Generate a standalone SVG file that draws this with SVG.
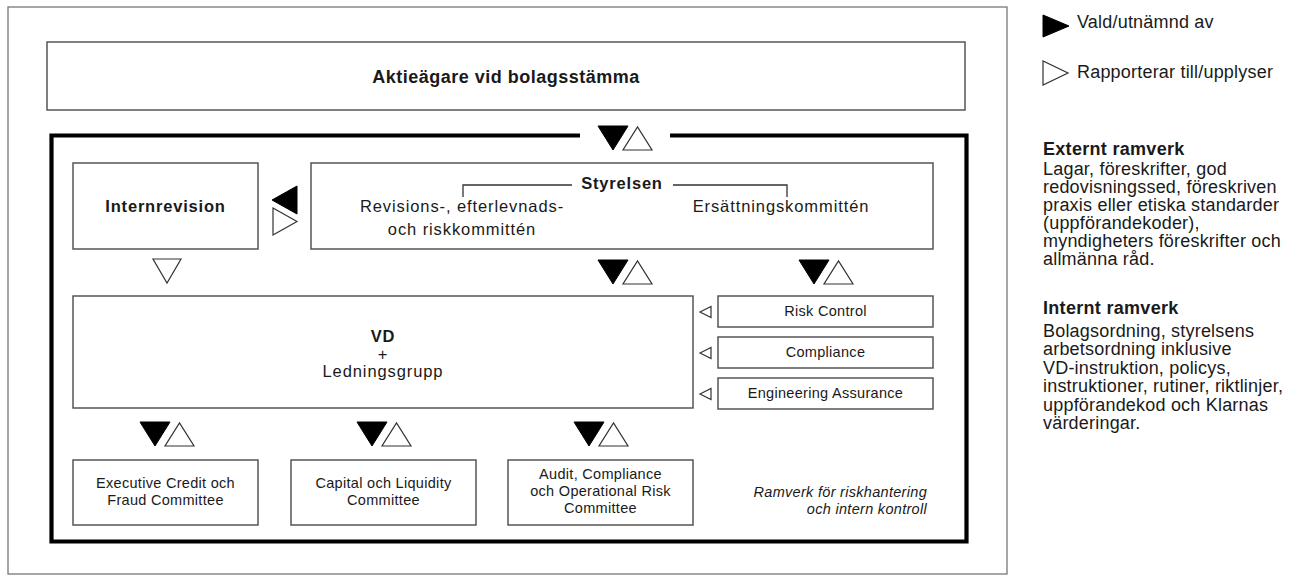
<svg xmlns="http://www.w3.org/2000/svg" xmlns:xlink="http://www.w3.org/1999/xlink" width="1301" height="577" viewBox="0 0 1301 577">
<style>
.frame{fill:none;stroke:#777;stroke-width:1.3}
.box{fill:#fff;stroke:#555;stroke-width:1.5}
.thick{fill:none;stroke:#000;stroke-width:4.2}
.bracket{fill:none;stroke:#333;stroke-width:1.3}
.fill{fill:#000;stroke:#000;stroke-width:1;stroke-linejoin:miter}
.hollow{fill:#fff;stroke:#333;stroke-width:1.2;stroke-linejoin:miter}
text{font-family:"Liberation Sans",Arial,sans-serif;fill:#1a1a1a}
.h{font-weight:bold;font-size:16.5px;letter-spacing:0.8px;text-anchor:middle}
.big{font-weight:bold;font-size:18px;letter-spacing:0.5px;text-anchor:middle}
.r{font-size:16.5px;letter-spacing:0.9px;text-anchor:middle}
.s{font-size:14.5px;letter-spacing:0.3px;text-anchor:middle}
.it{font-size:14.5px;font-style:italic;letter-spacing:0.3px;text-anchor:end}
.lg{font-size:18px;letter-spacing:0.2px}
.lgb{font-size:18px;font-weight:bold;letter-spacing:0.3px}
</style>
<defs>
<g id="pair">
<polygon class="fill" points="0,0 30,0 15,24"/>
<polygon class="hollow" points="25,24 54,24 39.5,1"/>
</g>
</defs>
<rect class="frame" x="8" y="7" width="999" height="567"/>
<g id="aktieagare">
<rect class="box" x="47" y="42" width="918" height="68"/>
<text class="big" x="506" y="83">Aktieägare vid bolagsstämma</text>
</g>
<g id="ramverk-frame">
<path class="thick" d="M580,135.5 H51.5 V541.5 H966.5 V135.5 H670"/>
<text class="it" x="927" y="497">Ramverk för riskhantering</text>
<text class="it" x="927" y="514">och intern kontroll</text>
</g>
<g id="internrevision">
<rect class="box" x="73" y="163" width="185" height="86"/>
<text class="h" x="165.5" y="212">Internrevision</text>
</g>
<g id="styrelsen">
<rect class="box" x="311" y="163" width="622" height="86"/>
<path class="bracket" d="M463,197 V185 H572 M673,185 H787 V197"/>
<text class="h" x="622" y="189">Styrelsen</text>
<text class="r" x="462" y="212">Revisions-, efterlevnads-</text>
<text class="r" x="462" y="235">och riskkommittén</text>
<text class="r" x="781" y="212">Ersättningskommittén</text>
</g>
<g id="vd">
<rect class="box" x="73" y="296" width="620" height="112"/>
<text class="h" x="383" y="342">VD</text>
<text class="r" x="383" y="360">+</text>
<text class="r" x="383" y="377">Ledningsgrupp</text>
</g>
<g id="risk-control">
<rect class="box" x="718" y="296" width="215" height="31"/>
<text class="s" x="825.5" y="316">Risk Control</text>
</g>
<g id="compliance">
<rect class="box" x="718" y="337" width="215" height="31"/>
<text class="s" x="825.5" y="357">Compliance</text>
</g>
<g id="engineering-assurance">
<rect class="box" x="718" y="378" width="215" height="31"/>
<text class="s" x="825.5" y="398">Engineering Assurance</text>
</g>
<g id="executive-credit">
<rect class="box" x="73" y="460" width="185" height="65"/>
<text class="s" x="165.5" y="488">Executive Credit och</text>
<text class="s" x="165.5" y="505">Fraud Committee</text>
</g>
<g id="capital-liquidity">
<rect class="box" x="291" y="460" width="185" height="65"/>
<text class="s" x="383.5" y="488">Capital och Liquidity</text>
<text class="s" x="383.5" y="505">Committee</text>
</g>
<g id="audit-compliance">
<rect class="box" x="508" y="460" width="185" height="65"/>
<text class="s" x="600.5" y="479">Audit, Compliance</text>
<text class="s" x="600.5" y="496">och Operational Risk</text>
<text class="s" x="600.5" y="513">Committee</text>
</g>
<g id="connectors">
<use xlink:href="#pair" x="598" y="126"/>
<use xlink:href="#pair" x="598" y="260"/>
<use xlink:href="#pair" x="799" y="260"/>
<use xlink:href="#pair" x="140" y="422"/>
<use xlink:href="#pair" x="357" y="422"/>
<use xlink:href="#pair" x="574" y="422"/>
<polygon class="fill" points="272,200 297,186 297,214"/>
<polygon class="hollow" points="273,208 273,235 297,221.5"/>
<polygon class="hollow" points="153,259 181,259 167,283"/>
<polygon class="hollow" points="700,312 711,306.5 711,317.5"/>
<polygon class="hollow" points="700,353 711,347.5 711,358.5"/>
<polygon class="hollow" points="700,394 711,388.5 711,399.5"/>
</g>
<g id="legend">
<polygon class="fill" points="1043,15 1043,37 1069,26"/>
<text class="lg" x="1077" y="28">Vald/utnämnd av</text>
<polygon class="hollow" points="1043,61 1043,85 1068,73"/>
<text class="lg" x="1077" y="78">Rapporterar till/upplyser</text>
</g>
<g id="externt-ramverk">
<text class="lgb" x="1043" y="155">Externt ramverk</text>
<text class="lg" x="1043" y="175">Lagar, föreskrifter, god</text>
<text class="lg" x="1043" y="193">redovisningssed, föreskriven</text>
<text class="lg" x="1043" y="211">praxis eller etiska standarder</text>
<text class="lg" x="1043" y="229">(uppförandekoder),</text>
<text class="lg" x="1043" y="247">myndigheters föreskrifter och</text>
<text class="lg" x="1043" y="265">allmänna råd.</text>
</g>
<g id="internt-ramverk">
<text class="lgb" x="1043" y="314">Internt ramverk</text>
<text class="lg" x="1043" y="337">Bolagsordning, styrelsens</text>
<text class="lg" x="1043" y="355.4">arbetsordning inklusive</text>
<text class="lg" x="1043" y="373.8">VD-instruktion, policys,</text>
<text class="lg" x="1043" y="392.2">instruktioner, rutiner, riktlinjer,</text>
<text class="lg" x="1043" y="410.6">uppförandekod och Klarnas</text>
<text class="lg" x="1043" y="429">värderingar.</text>
</g>
</svg>
